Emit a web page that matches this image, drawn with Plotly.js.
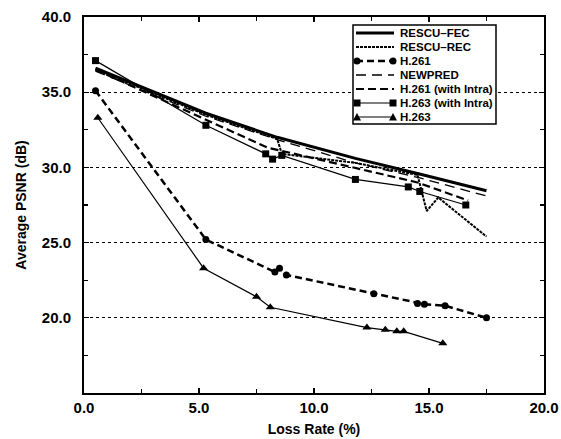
<!DOCTYPE html>
<html>
<head>
<meta charset="utf-8">
<script src="https://cdn.plot.ly/plotly-3.0.1.min.js"></script>
<style>html,body{margin:0;padding:0;background:#fff;}#chart{width:561px;height:439px;}</style>
</head>
<body>
<div id="chart"></div>
<script>
// ---- data ----
const seriesNames = ["RESCU\u2013FEC", "RESCU\u2013REC", "H.261", "NEWPRED", "H.261 (with Intra)", "H.263 (with Intra)", "H.263"];

const rescuFecX = [0.5, 5.3, 8.4, 11.8, 14.5, 17.5];
const rescuFecY = [36.6, 33.6, 32.0, 30.6, 29.6, 28.45];

const rescuRecX = [0.5, 5.3, 8.4, 8.6, 11.8, 14.5, 14.9, 15.4, 17.5];
const rescuRecY = [36.5, 33.5, 31.9, 30.9, 30.3, 29.5, 27.1, 28.0, 25.4];

const h261X = [0.5, 5.3, 8.3, 8.5, 8.8, 12.6, 14.5, 14.8, 15.7, 17.5];
const h261Y = [35.1, 25.2, 23.05, 23.3, 22.85, 21.6, 20.95, 20.9, 20.8, 20.0];

const newpredX = [0.5, 5.3, 8.5, 11.8, 14.6, 17.5];
const newpredY = [36.4, 33.4, 31.8, 30.3, 29.3, 28.1];

const h261IntraX = [0.5, 5.3, 8.0, 8.6, 11.7, 14.5, 16.7];
const h261IntraY = [36.5, 33.2, 31.3, 31.1, 30.0, 29.0, 27.8];

const h263IntraX = [0.5, 5.3, 7.9, 8.2, 8.6, 11.8, 14.1, 14.6, 16.6];
const h263IntraY = [37.1, 32.8, 30.9, 30.55, 30.8, 29.2, 28.7, 28.4, 27.5];

const h263X = [0.6, 5.2, 7.5, 8.1, 12.3, 13.1, 13.6, 13.9, 15.6];
const h263Y = [33.3, 23.3, 21.4, 20.7, 19.35, 19.2, 19.1, 19.1, 18.3];

const xTickVals = [0, 5, 10, 15, 20];
const yTickVals = [20, 25, 30, 35, 40];

// ---- styles ----
const styles = [
  {width: 3,   dash: "solid",     marker: null},
  {width: 2,   dash: "3px,1px",   marker: null},
  {width: 2.5, dash: "7px,4px",   marker: "circle"},
  {width: 1.3, dash: "10px,6px",  marker: null},
  {width: 2.2, dash: "8px,4px",   marker: null},
  {width: 1.2, dash: "solid",     marker: "square"},
  {width: 1.2, dash: "solid",     marker: "triangle-up"}
];
const xs = [rescuFecX, rescuRecX, h261X, newpredX, h261IntraX, h263IntraX, h263X];
const ys = [rescuFecY, rescuRecY, h261Y, newpredY, h261IntraY, h263IntraY, h263Y];

const traces = seriesNames.map((name, i) => {
  const s = styles[i];
  const t = {
    x: xs[i], y: ys[i], name: name, type: "scatter",
    mode: s.marker ? "lines+markers" : "lines",
    line: {color: "#000", width: s.width, dash: s.dash},
    showlegend: false
  };
  if (s.marker) {
    t.marker = {symbol: s.marker, color: "#000", size: s.marker === "triangle-up" ? 8 : 7};
  }
  return t;
});

// ---- manual legend (layout decorations) ----
const L = 84, R = 544, T = 17, B = 393;
const px = v => (v - L) / (R - L);
const py = v => (B - v) / (B - T);
const shapes = [];
const annotations = [];
shapes.push({type: "rect", xref: "paper", yref: "paper", x0: px(353), x1: px(496), y0: py(25), y1: py(124),
  line: {color: "#000", width: 1.5}, fillcolor: "#fff", layer: "above"});
seriesNames.forEach((name, i) => {
  const s = styles[i];
  const rowY = 33 + i * 14;
  shapes.push({type: "line", xref: "paper", yref: "paper", x0: px(356), x1: px(394), y0: py(rowY), y1: py(rowY),
    line: {color: "#000", width: s.width, dash: s.dash}, layer: "above"});
  [357, 393].forEach(cx => {
    if (s.marker === "circle") {
      shapes.push({type: "circle", xref: "paper", yref: "paper", x0: px(cx - 3.5), x1: px(cx + 3.5), y0: py(rowY + 3.5), y1: py(rowY - 3.5),
        line: {color: "#000", width: 0}, fillcolor: "#000", layer: "above"});
    } else if (s.marker === "square") {
      shapes.push({type: "rect", xref: "paper", yref: "paper", x0: px(cx - 3.5), x1: px(cx + 3.5), y0: py(rowY + 3.5), y1: py(rowY - 3.5),
        line: {color: "#000", width: 0}, fillcolor: "#000", layer: "above"});
    } else if (s.marker === "triangle-up") {
      shapes.push({type: "path", xref: "paper", yref: "paper",
        path: `M${px(cx - 4)},${py(rowY + 3.5)} L${px(cx + 4)},${py(rowY + 3.5)} L${px(cx)},${py(rowY - 4)} Z`,
        line: {color: "#000", width: 0}, fillcolor: "#000", layer: "above"});
    }
  });
  annotations.push({xref: "paper", yref: "paper", x: px(398), y: py(rowY), xanchor: "left", yanchor: "middle",
    text: name, showarrow: false, font: {family: "Liberation Sans, Arial, sans-serif", size: 11.5, color: "#000", weight: "bold"}});
});

const layout = {
  width: 561, height: 439,
  margin: {l: L, r: 561 - R, t: T, b: 439 - B},
  paper_bgcolor: "#fff", plot_bgcolor: "#fff",
  font: {family: "Liberation Sans, Arial, sans-serif", color: "#000"},
  showlegend: false,
  xaxis: {
    range: [0, 20], tickvals: xTickVals, tickformat: ".1f",
    ticks: "inside", ticklen: 5, tickwidth: 1.2, tickcolor: "#000",
    minor: {dtick: 2.5, ticks: "inside", ticklen: 4, tickcolor: "#000"},
    showline: true, linecolor: "#000", linewidth: 2, mirror: "allticks",
    showgrid: false, zeroline: false,
    tickfont: {size: 15, weight: "bold", color: "#000"},
    title: {text: "Loss Rate (%)", font: {size: 14, weight: "bold", color: "#000"}, standoff: 9}
  },
  yaxis: {
    range: [15, 40], tickvals: yTickVals, tickformat: ".1f",
    ticks: "inside", ticklen: 5, tickwidth: 1.2, tickcolor: "#000",
    minor: {dtick: 2.5, ticks: "inside", ticklen: 4, tickcolor: "#000"},
    showline: true, linecolor: "#000", linewidth: 2, mirror: "allticks",
    showgrid: true, gridcolor: "#000", gridwidth: 1, griddash: "dot",
    zeroline: false, ticklabelstandoff: 8,
    tickfont: {size: 15, weight: "bold", color: "#000"},
    title: {text: "Average PSNR (dB)", font: {size: 14, weight: "bold", color: "#000"}, standoff: 12}
  },
  shapes: shapes,
  annotations: annotations
};

Plotly.newPlot("chart", traces, layout, {displayModeBar: false, staticPlot: true});
</script>
</body>
</html>
